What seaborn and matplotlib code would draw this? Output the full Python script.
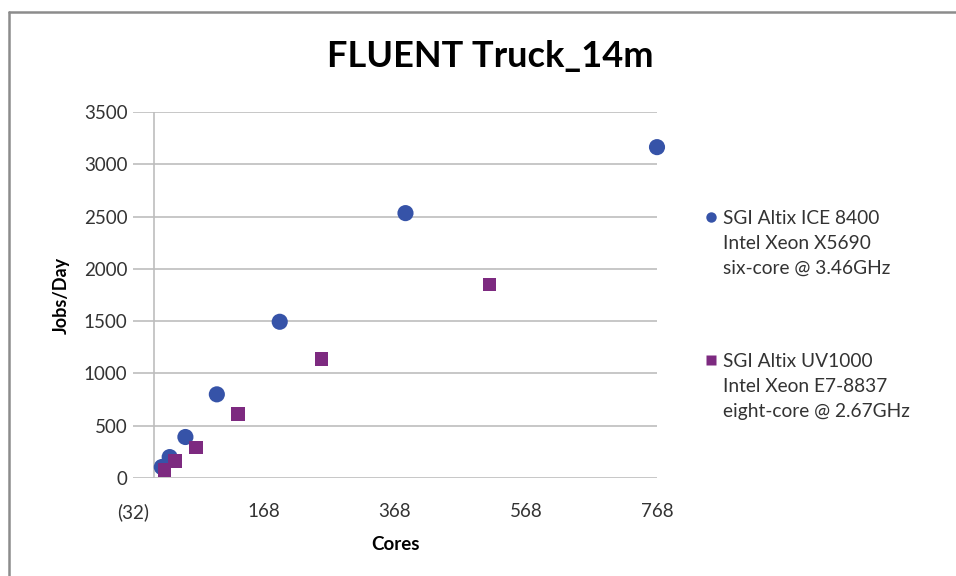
import matplotlib
matplotlib.use("Agg")
import matplotlib.pyplot as plt
import seaborn as sns
import pandas as pd
from matplotlib.lines import Line2D

# Data
iceCores = [12, 24, 48, 96, 192, 384, 768]
iceJobs = [105, 200, 392, 800, 1494, 2533, 3164]
uvCores = [16, 32, 64, 128, 256, 512]
uvJobs = [76, 163, 290, 610, 1140, 1850]

iceLabel = ["SGI Altix ICE 8400", "Intel Xeon X5690", "six-core @ 3.46GHz"]
uvLabel = ["SGI Altix UV1000", "Intel Xeon E7-8837", "eight-core @ 2.67GHz"]

xTicks = [-32, 168, 368, 568, 768]
xTickLabels = ["(32)", "168", "368", "568", "768"]
yTicks = [0, 500, 1000, 1500, 2000, 2500, 3000, 3500]

blue = "#3653A8"
purple = "#7D2A80"
gridGray = "#BDBDBD"
textGray = "#333333"

sns.set_theme(style="white")
plt.rcParams["font.family"] = ["Lato", "DejaVu Sans"]

ice = pd.DataFrame({"cores": iceCores, "jobs": iceJobs})
uv = pd.DataFrame({"cores": uvCores, "jobs": uvJobs})

fig = plt.figure(figsize=(9.56, 5.76), dpi=100)
ax = fig.add_axes([133 / 956, 1 - 478 / 576, (657 - 133) / 956, (478 - 112) / 576])

for y in yTicks:
    ax.axhline(y, color=gridGray, lw=1.2, zorder=0)
ax.axvline(0, color=gridGray, lw=1.2, zorder=0)

sns.scatterplot(data=ice, x="cores", y="jobs", ax=ax, color=blue, marker="o",
                s=135, edgecolor="none", clip_on=False, zorder=3)
sns.scatterplot(data=uv, x="cores", y="jobs", ax=ax, color=purple, marker="s",
                s=95, edgecolor="none", clip_on=False, zorder=3)

ax.set_xlim(-32, 768)
ax.set_ylim(0, 3500)
ax.set_xticks(xTicks)
ax.set_xticklabels(xTickLabels)
ax.set_yticks(yTicks)
for s in ax.spines.values():
    s.set_visible(False)
ax.tick_params(axis="x", length=0, pad=18, labelsize=13.5, labelcolor=textGray)
ax.tick_params(axis="y", length=0, pad=4, labelsize=13.5, labelcolor=textGray)

ax.set_xlabel("Cores", fontsize=13.5, fontweight="bold", color="black", labelpad=11)
ax.set_ylabel("Jobs/Day", fontsize=13, fontweight="bold", color="black", labelpad=10)

fig.text(490 / 956, 1 - 57 / 576, "FLUENT Truck_14m", ha="center", va="center",
         fontsize=26, fontweight="bold", color="black")


def addLegend(lines, color, marker, msize, topY):
    handles = [Line2D([], [], linestyle="none", marker=marker, color=color,
                      markersize=msize, markeredgecolor="none")]
    handles += [Line2D([], [], linestyle="none") for _ in lines[1:]]
    leg = fig.legend(handles, lines, loc="upper left",
                     bbox_to_anchor=(704 / 956, 1 - topY / 576),
                     frameon=False, fontsize=13.8, labelspacing=0.42,
                     handlelength=0.7, handletextpad=0.3, borderpad=0,
                     borderaxespad=0)
    for t in leg.get_texts():
        t.set_color(textGray)
    return leg


addLegend(iceLabel, blue, "o", 7.5, 210)
addLegend(uvLabel, purple, "s", 7.5, 353)

# chart border (top and left edges visible)
fig.add_artist(Line2D([9 / 956, 1], [1 - 12 / 576, 1 - 12 / 576], color="#8C8C8C", lw=1.8))
fig.add_artist(Line2D([9 / 956, 9 / 956], [0, 1 - 12 / 576], color="#8C8C8C", lw=1.8))

fig.savefig("out.png", dpi=100)
